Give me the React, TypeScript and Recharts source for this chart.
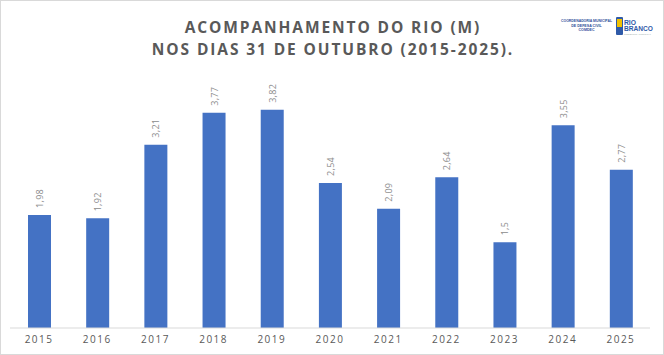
import { BarChart, Bar, XAxis, YAxis, LabelList } from "recharts";

const years = ["2015", "2016", "2017", "2018", "2019", "2020", "2021", "2022", "2023", "2024", "2025"];
const levels = [1.98, 1.92, 3.21, 3.77, 3.82, 2.54, 2.09, 2.64, 1.5, 3.55, 2.77];
const titleLines = ["ACOMPANHAMENTO DO RIO (M)", "NOS DIAS 31 DE OUTUBRO (2015-2025)."];

const data = years.map((year, i) => ({ year, level: levels[i] }));

const fmt = (v: number) => String(v).replace(".", ",");

function ValueLabel(props: any) {
  const { x, y, width, value } = props;
  const cx = x + width / 2;
  const cy = y - 7;
  return (
    <text
      x={cx}
      y={cy}
      transform={`rotate(-90 ${cx} ${cy})`}
      textAnchor="start"
      dominantBaseline="central"
      fontSize={9}
      letterSpacing={0.3}
      fill="#8c8c8c"
      fontFamily="Open Sans, sans-serif"
    >
      {fmt(value)}
    </text>
  );
}

function Logo() {
  return (
    <g fontFamily="Liberation Sans, sans-serif" fontWeight={700}>
      <text x={560} y={21} fontSize={3.6} fill="#2f4f9a" textLength={51} lengthAdjust="spacingAndGlyphs">
        COORDENADORIA MUNICIPAL
      </text>
      <text x={585.5} y={25.5} fontSize={3.6} fill="#2f4f9a" textAnchor="middle">
        DE DEFESA CIVIL
      </text>
      <text x={585.5} y={30} fontSize={3.6} fill="#2f4f9a" textAnchor="middle">
        COMDEC
      </text>
      <rect x={615} y={16} width={7} height={18} fill="#2f5aa8" rx={1} />
      <rect x={616} y={18} width={5} height={8} fill="#f2c200" />
      <text x={623} y={24} fontSize={7} fill="#2f5aa8" textLength={12} lengthAdjust="spacingAndGlyphs">RIO</text>
      <text x={623} y={30} fontSize={6.5} fill="#2f5aa8" textLength={29} lengthAdjust="spacingAndGlyphs">BRANCO</text>
      <text x={623} y={33.5} fontSize={2.5} fill="#9aa" textLength={27} lengthAdjust="spacingAndGlyphs" fontWeight={400}>
        PREFEITURA MUNICIPAL
      </text>
    </g>
  );
}

export default function App() {
  return (
    <div
      style={{
        position: "fixed",
        left: 0,
        top: 0,
        width: 664,
        height: 355,
        background: "#fff",
        boxSizing: "border-box",
        border: "1px solid #d9d9d9",
      }}
    >
      <div
        style={{
          position: "absolute",
          left: 0,
          top: 16,
          width: 664,
          textAlign: "center",
          fontFamily: "Open Sans, sans-serif",
          fontWeight: 700,
          fontSize: 15.5,
          lineHeight: "21.5px",
          letterSpacing: 1.9,
          color: "#595959",
        }}
      >
        {titleLines.map((t) => (
          <div key={t}>{t}</div>
        ))}
      </div>
      <BarChart
        width={662}
        height={353}
        data={data}
        margin={{ top: 70, right: 13, left: 9, bottom: 6 }}
        style={{ position: "absolute", left: 0, top: 0 }}
      >
        <Logo />
        <YAxis hide domain={[0, 4.5]} />
        <XAxis
          dataKey="year"
          height={20}
          tickLine={false}
          axisLine={{ stroke: "#d9d9d9" }}
          tick={{ fontSize: 10, fill: "#595959", letterSpacing: 1.5, fontFamily: "Open Sans, sans-serif" }}
          interval={0}
        />
        <Bar dataKey="level" fill="#4472c4" barSize={23} isAnimationActive={false}>
          <LabelList dataKey="level" content={ValueLabel} />
        </Bar>
      </BarChart>
    </div>
  );
}
